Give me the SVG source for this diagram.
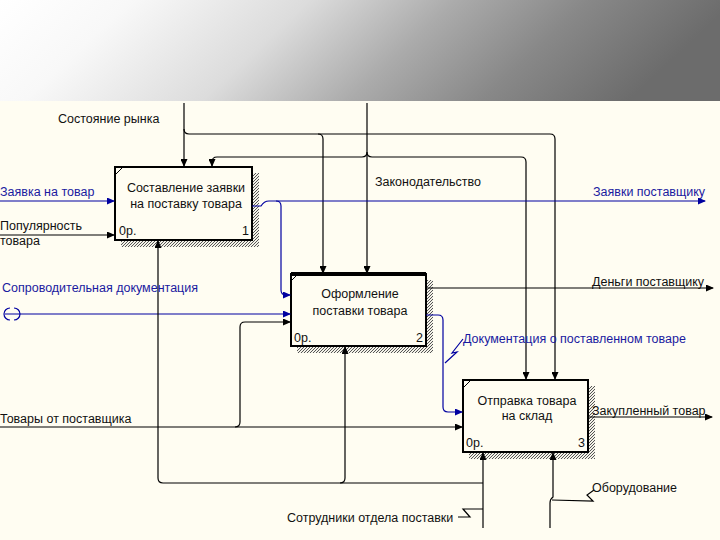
<svg xmlns="http://www.w3.org/2000/svg" width="720" height="540" viewBox="0 0 720 540">
<defs>
<linearGradient id="hdr" x1="0" y1="0" x2="1" y2="0.15">
<stop offset="0" stop-color="#ffffff"/>
<stop offset="0.18" stop-color="#f8f8f8"/>
<stop offset="0.42" stop-color="#dcdcdc"/>
<stop offset="0.62" stop-color="#ababab"/>
<stop offset="0.8" stop-color="#888888"/>
<stop offset="1" stop-color="#6c6c6c"/>
</linearGradient>
<pattern id="hatch" width="3" height="3" patternUnits="userSpaceOnUse">
<rect width="3" height="3" fill="#f4f2e8"/>
<path d="M0,3 L3,0 M-1,1 L1,-1 M2,4 L4,2" stroke="#555" stroke-width="1"/>
</pattern>
<marker id="ab" markerWidth="8" markerHeight="7" refX="7" refY="3.5" orient="auto" markerUnits="userSpaceOnUse">
<path d="M0,0 L8,3.5 L0,7 Z" fill="#000"/>
</marker>
<marker id="au" markerWidth="8" markerHeight="7" refX="7" refY="3.5" orient="auto" markerUnits="userSpaceOnUse">
<path d="M0,0 L8,3.5 L0,7 Z" fill="#0000a0"/>
</marker>
</defs>
<style>
.bg{fill:#fffdf2}
.box{fill:#fffdf2;stroke:#000;stroke-width:2}
.sh{fill:url(#hatch)}
.t{font-family:"Liberation Sans",Arial,sans-serif;font-size:12.5px;fill:#111}
.tb{font-family:"Liberation Sans",Arial,sans-serif;font-size:12.5px;fill:#1a1aa0}
.c{text-anchor:middle}
.e{text-anchor:end}
.k{fill:none;stroke:#000;stroke-width:1.2}
.u{fill:none;stroke:#0000a0;stroke-width:1.2}
</style>
<rect class="bg" x="0" y="0" width="720" height="540"/>
<rect x="0" y="0" width="720" height="101" fill="url(#hdr)"/>

<g id="node1">
<path class="sh" d="M252,173 L259,173 L259,247 L121,247 L121,240 L252,240 Z"/>
<rect class="box" x="115" y="167" width="137" height="73"/>
<path d="M116,174 L122,168" stroke="#000" stroke-width="1"/>
<text class="t c" x="186" y="192">Составление заявки</text>
<text class="t c" x="186" y="208">на поставку товара</text>
<text class="t" x="119" y="235">0р.</text>
<text class="t e" x="249" y="235">1</text>
</g>

<g id="node2">
<path class="sh" d="M426,280 L433,280 L433,353 L297,353 L297,346 L426,346 Z"/>
<rect class="box" x="291" y="274" width="135" height="72"/>
<path d="M291,274 L426,274" stroke="#000" stroke-width="4"/>
<path d="M292,280 L297,275" stroke="#000" stroke-width="1"/>
<text class="t c" x="360" y="298">Оформление</text>
<text class="t c" x="360" y="315">поставки товара</text>
<text class="t" x="294" y="342">0р.</text>
<text class="t e" x="423" y="342">2</text>
</g>

<g id="node3">
<path class="sh" d="M588,386 L595,386 L595,459 L469,459 L469,452 L588,452 Z"/>
<rect class="box" x="463" y="380" width="125" height="72"/>
<path d="M464,387 L470,381" stroke="#000" stroke-width="1"/>
<text class="t c" x="527" y="405">Отправка товара</text>
<text class="t c" x="527" y="420">на склад</text>
<text class="t" x="466" y="447">0р.</text>
<text class="t e" x="585" y="447">3</text>
</g>

<g id="connectors">
<!-- Состояние рынка -->
<path class="k" d="M184,103 L184,166" marker-end="url(#ab)"/>
<path class="k" d="M184,129 Q184,134 189,134 L550,134 Q555,134 555,139 L555,379" marker-end="url(#ab)"/>
<path class="k" d="M318,134 Q323,134 323,139 L323,273" marker-end="url(#ab)"/>
<!-- Законодательство -->
<path class="k" d="M367,103 L367,273" marker-end="url(#ab)"/>
<path class="k" d="M362,157 L217,157 Q212,157 212,162 L212,166" marker-end="url(#ab)"/>
<path class="k" d="M372,157 L521,157 Q526,157 526,162 L526,379" marker-end="url(#ab)"/>
<path class="k" d="M362,157 Q367,157 367,152 M372,157 Q367,157 367,152"/>
<!-- Заявка на товар -->
<path class="u" d="M0,201 L114,201" marker-end="url(#au)"/>
<!-- Популярность товара -->
<path class="k" d="M0,235 L114,235" marker-end="url(#ab)"/>
<!-- Заявки поставщику -->
<path class="u" d="M252,206 L261,206 Q264,201 269,201 L705,201" marker-end="url(#au)"/>
<path class="u" d="M276,201 Q281,201 281,206 L281,290 Q281,295 286,295 L290,295" marker-end="url(#au)"/>
<!-- Сопроводительная документация -->
<path class="u" d="M5,314 L290,314" marker-end="url(#au)"/>
<path class="u" d="M10,308 A6,6 0 0,0 10,320 M14,308 A6,6 0 0,1 14,320"/>
<!-- Товары от поставщика -->
<path class="k" d="M0,427 L462,427" marker-end="url(#ab)"/>
<path class="k" d="M235,427 Q240,427 240,422 L240,327 Q240,322 245,322 L290,322" marker-end="url(#ab)"/>
<!-- Деньги поставщику -->
<path class="k" d="M426,288 L713,288" marker-end="url(#ab)"/>
<!-- Документация о поставленном товаре -->
<path class="u" d="M426,315 L438,315 Q443,315 443,320 L443,407 Q443,412 448,412 L462,412" marker-end="url(#au)"/>
<polyline class="u" points="463,339 452,353 457,352 445,363"/>
<!-- Закупленный товар -->
<path class="k" d="M588,417 L712,417" marker-end="url(#ab)"/>
<!-- Сотрудники отдела поставки -->
<path class="k" d="M483,528 L483,453" marker-end="url(#ab)"/>
<path class="k" d="M483,483 L163,483 Q158,483 158,478 L158,241" marker-end="url(#ab)"/>
<path class="k" d="M340,483 Q345,483 345,478 L345,347" marker-end="url(#ab)"/>
<polyline class="k" points="458,517 470,517 463,509 483,509"/>
<!-- Оборудование -->
<path class="k" d="M550,528 L550,503 Q550,499 553,497 L553,453" marker-end="url(#ab)"/>
<polyline class="k" points="552,500 593,501 587,495 594,490"/>

<text class="t" x="58" y="123">Состояние рынка</text>
<text class="t" x="375" y="186">Законодательство</text>
<text class="tb" x="0" y="196">Заявка на товар</text>
<text class="t" x="0" y="230">Популярность</text>
<text class="t" x="0" y="245">товара</text>
<text class="tb" x="593" y="196">Заявки поставщику</text>
<text class="tb" x="2" y="292">Сопроводительная документация</text>
<text class="t" x="0" y="423">Товары от поставщика</text>
<text class="t" x="592" y="286">Деньги поставщику</text>
<text class="tb" x="463" y="343">Документация о поставленном товаре</text>
<text class="t" x="592" y="415">Закупленный товар</text>
<text class="t" x="287" y="522">Сотрудники отдела поставки</text>
<text class="t" x="592" y="492">Оборудование</text>
</g>
</svg>
